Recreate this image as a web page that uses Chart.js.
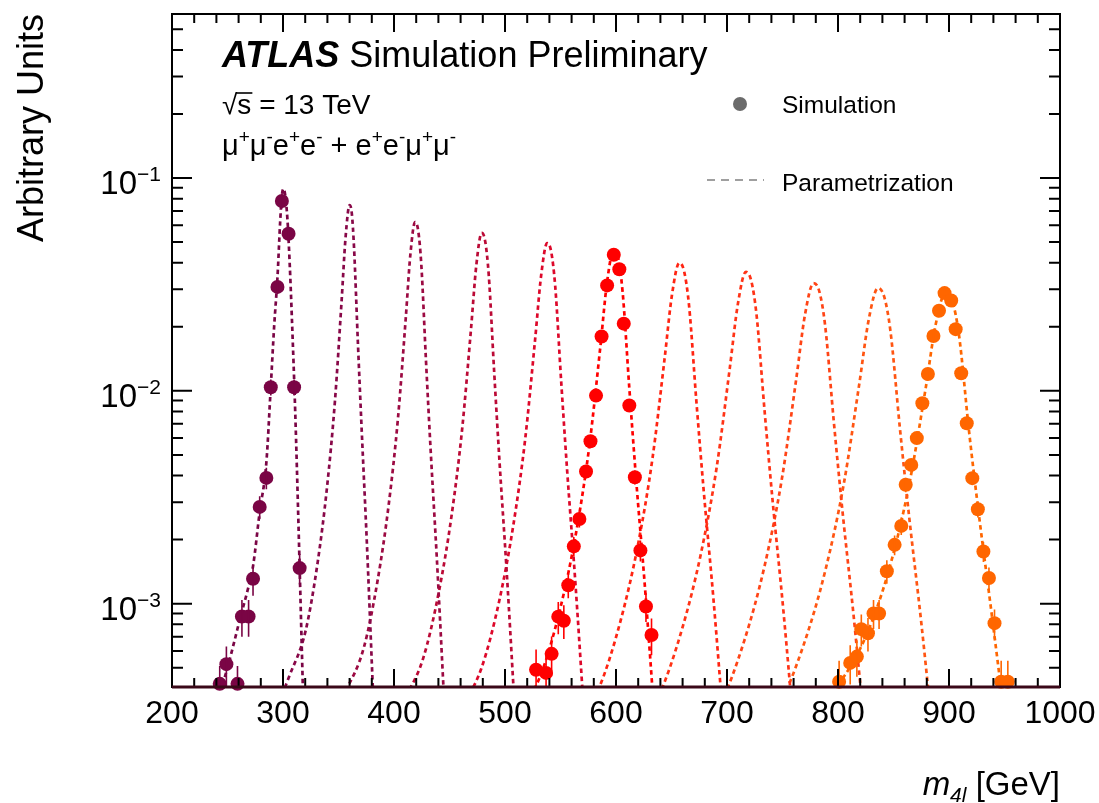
<!DOCTYPE html>
<html><head><meta charset="utf-8">
<script src="https://cdn.jsdelivr.net/npm/chart.js@4.4.1/dist/chart.umd.min.js"></script>
<style>html,body{margin:0;padding:0;background:#fff;}#wrap{width:1099px;height:803px;}</style>
</head><body><div id="wrap"><canvas id="c" width="1099" height="803"></canvas></div>
<script>
// ---------- axis ticks ----------
const xTickValues = [200, 300, 400, 500, 600, 700, 800, 900, 1000];
const xTickLabels = ['200', '300', '400', '500', '600', '700', '800', '900', '1000'];
const yTickValues = [1e-3, 1e-2, 1e-1];
const yTickExponents = ['\u22123', '\u22122', '\u22121'];

// ---------- simulation points ----------
const simMass300 = [243, 249, 259, 263, 269, 273, 279, 285, 289, 295, 299, 305, 310, 315];
const simVal300  = [4.2e-4, 5.2e-4, 4.2e-4, 8.7e-4, 8.7e-4, 1.31e-3, 2.85e-3, 3.9e-3, 1.04e-2, 3.08e-2, 7.8e-2, 5.47e-2, 1.04e-2, 1.47e-3];
const simErr300  = [9e-5, 1.1e-4, 9e-5, 1.7e-4, 1.7e-4, 2.2e-4, 3.5e-4, 4.5e-4, 9e-4, 2.2e-3, 6e-3, 4e-3, 9e-4, 2.4e-4];
const simMass600 = [528, 537, 542, 548, 553, 557, 562, 567, 573, 577, 582, 587, 592, 598, 603, 607, 612, 617, 622, 627, 632];
const simVal600  = [4.89e-4, 4.73e-4, 5.81e-4, 8.69e-4, 8.32e-4, 1.22e-3, 1.86e-3, 2.5e-3, 4.18e-3, 5.8e-3, 9.5e-3, 1.8e-2, 3.13e-2, 4.36e-2, 3.73e-2, 2.07e-2, 8.53e-3, 3.93e-3, 1.78e-3, 9.7e-4, 7.13e-4];
const simErr600  = [1.2e-4, 1.1e-4, 1.2e-4, 1.5e-4, 1.5e-4, 1.6e-4, 2e-4, 2.2e-4, 3e-4, 3.5e-4, 5e-4, 8e-4, 1.1e-3, 1.3e-3, 1.2e-3, 9e-4, 5e-4, 3e-4, 2e-4, 1.5e-4, 1.4e-4];
const simMass900 = [801, 811, 817, 821, 827, 832, 837, 844, 851, 857, 861, 866, 871, 876, 881, 886, 891, 896, 902, 906, 911, 916, 921, 926, 931, 936, 941, 947, 953];
const simVal900  = [4.3e-4, 5.27e-4, 5.64e-4, 7.59e-4, 7.26e-4, 9.0e-4, 9.0e-4, 1.42e-3, 1.89e-3, 2.32e-3, 3.62e-3, 4.49e-3, 6.0e-3, 8.75e-3, 1.2e-2, 1.81e-2, 2.38e-2, 2.88e-2, 2.66e-2, 1.95e-2, 1.21e-2, 7.05e-3, 3.89e-3, 2.78e-3, 1.76e-3, 1.32e-3, 8.1e-4, 4.3e-4, 4.3e-4];
const simErr900  = [1.1e-4, 1.1e-4, 1.1e-4, 1.3e-4, 1.3e-4, 1.4e-4, 1.4e-4, 1.8e-4, 2e-4, 2.2e-4, 2.8e-4, 3e-4, 3.5e-4, 4e-4, 5e-4, 6e-4, 7e-4, 8e-4, 7.5e-4, 6.5e-4, 5e-4, 4e-4, 2.8e-4, 2.4e-4, 1.9e-4, 1.6e-4, 1.3e-4, 1.1e-4, 1.1e-4];

// ---------- parametrization curves ----------
const curveMass300 = [236, 245, 250, 256, 262, 268, 273, 279, 285, 289, 292, 295, 297.5, 299, 300.5, 302, 304, 306, 308, 311, 314, 317, 320];
const curveVal300  = [3.0e-4, 4.1e-4, 5.0e-4, 6.6e-4, 8.8e-4, 1.15e-3, 1.5e-3, 2.7e-3, 4.6e-3, 1.05e-2, 2.0e-2, 3.4e-2, 6.3e-2, 8.3e-2, 8.9e-2, 8.3e-2, 6.4e-2, 4.0e-2, 2.2e-2, 8.0e-3, 2.3e-3, 6.0e-4, 1.6e-4];
const curveMass360 = [288, 306, 320.4, 331.2, 339.6, 346.8, 352.8, 356.4, 360, 362, 364, 367.5, 371, 375.5, 380, 383.5];
const curveVal360  = [2.71e-4, 4.61e-4, 7.47e-4, 1.56e-3, 3.5e-3, 8.96e-3, 2.65e-2, 5.29e-2, 7.47e-2, 6.81e-2, 4.71e-2, 1.67e-2, 6.36e-3, 1.96e-3, 5.29e-4, 1.87e-4];
const curveMass420 = [335, 356, 372.8, 385.4, 395.2, 403.6, 410.6, 414.8, 419, 421.8, 424.6, 428.8, 433, 438.6, 444.2, 448.4];
const curveVal420  = [2.25e-4, 3.83e-4, 6.21e-4, 1.3e-3, 2.91e-3, 7.45e-3, 2.2e-2, 4.4e-2, 6.21e-2, 5.66e-2, 3.92e-2, 1.39e-2, 5.28e-3, 1.63e-3, 4.4e-4, 1.56e-4];
const curveMass480 = [383, 407, 426.2, 440.6, 451.8, 461.4, 469.4, 474.2, 479, 482.2, 485.4, 490.2, 495, 501.4, 507.8, 512.6];
const curveVal480  = [2.0e-4, 3.41e-4, 5.52e-4, 1.15e-3, 2.58e-3, 6.62e-3, 1.96e-2, 3.91e-2, 5.52e-2, 5.03e-2, 3.48e-2, 1.24e-2, 4.7e-3, 1.45e-3, 3.91e-4, 1.39e-4];
const curveMass540 = [430, 457, 478.6, 494.8, 507.4, 518.2, 527.2, 532.6, 538, 541.6, 545.2, 550.6, 556, 563.2, 570.4, 575.8];
const curveVal540  = [1.8e-4, 3.05e-4, 4.95e-4, 1.03e-3, 2.32e-3, 5.94e-3, 1.76e-2, 3.5e-2, 4.95e-2, 4.51e-2, 3.12e-2, 1.11e-2, 4.21e-3, 1.3e-3, 3.5e-4, 1.24e-4];
const curveMass600 = [478, 508, 532, 550, 564, 576, 586, 592, 598, 602, 606, 612, 618, 626, 634, 640];
const curveVal600  = [1.67e-4, 2.84e-4, 4.6e-4, 9.61e-4, 2.15e-3, 5.52e-3, 1.63e-2, 3.26e-2, 4.6e-2, 4.2e-2, 2.9e-2, 1.03e-2, 3.91e-3, 1.21e-3, 3.26e-4, 1.15e-4];
const curveMass660 = [525, 558, 584.4, 604.2, 619.6, 632.8, 643.8, 650.4, 657, 661.4, 665.8, 672.4, 679, 687.8, 696.6, 703.2];
const curveVal660  = [1.45e-4, 2.46e-4, 3.99e-4, 8.34e-4, 1.87e-3, 4.79e-3, 1.42e-2, 2.82e-2, 3.99e-2, 3.64e-2, 2.52e-2, 8.94e-3, 3.4e-3, 1.05e-3, 2.82e-4, 1.0e-4];
const curveMass720 = [573, 609, 637.8, 659.4, 676.2, 690.6, 702.6, 709.8, 717, 721.8, 726.6, 733.8, 741, 750.6, 760.2, 767.4];
const curveVal720  = [1.31e-4, 2.23e-4, 3.62e-4, 7.57e-4, 1.69e-3, 4.34e-3, 1.29e-2, 2.56e-2, 3.62e-2, 3.3e-2, 2.28e-2, 8.11e-3, 3.08e-3, 9.52e-4, 2.56e-4, 9.09e-5];
const curveMass780 = [622, 661, 692.2, 715.6, 733.8, 749.4, 762.4, 770.2, 778, 783.2, 788.4, 796.2, 804, 814.4, 824.8, 832.6];
const curveVal780  = [1.17e-4, 1.98e-4, 3.21e-4, 6.71e-4, 1.5e-3, 3.85e-3, 1.14e-2, 2.27e-2, 3.21e-2, 2.93e-2, 2.03e-2, 7.19e-3, 2.73e-3, 8.44e-4, 2.27e-4, 8.06e-5];
const curveMass840 = [668, 710, 743.6, 768.8, 788.4, 805.2, 819.2, 827.6, 836, 841.6, 847.2, 855.6, 864, 875.2, 886.4, 894.8];
const curveVal840  = [1.1e-4, 1.88e-4, 3.04e-4, 6.35e-4, 1.42e-3, 3.65e-3, 1.08e-2, 2.15e-2, 3.04e-2, 2.77e-2, 1.92e-2, 6.81e-3, 2.59e-3, 7.99e-4, 2.15e-4, 7.63e-5];
const curveMass900 = [717, 762, 798, 825, 846, 864, 879, 888, 897, 903, 909, 918, 927, 939, 951, 960];
const curveVal900  = [1.6e-4, 2.5e-4, 4.0e-4, 7.0e-4, 1.45e-3, 3.6e-3, 1.03e-2, 2.05e-2, 2.9e-2, 2.64e-2, 1.83e-2, 6.5e-3, 2.6e-3, 8.5e-4, 2.6e-4, 9.0e-5];

const curveColors = ['#7a0545', '#880848', '#9c0a42', '#bb0a36', '#dd082a', '#ff0000', '#ff2412', '#ff3316', '#ff4416', '#ff5512', '#ff6600'];
const simColors = ['#7a0545', '#ff0000', '#ff6600'];

const FONT = "'Liberation Sans', Arial, Helvetica, sans-serif";

function pts(xs, ys) { return xs.map((m, i) => ({ x: m, y: ys[i] })); }

const curves = [
  [curveMass300, curveVal300], [curveMass360, curveVal360], [curveMass420, curveVal420],
  [curveMass480, curveVal480], [curveMass540, curveVal540], [curveMass600, curveVal600],
  [curveMass660, curveVal660], [curveMass720, curveVal720], [curveMass780, curveVal780],
  [curveMass840, curveVal840], [curveMass900, curveVal900]
];
const sims = [[simMass300, simVal300, simErr300], [simMass600, simVal600, simErr600], [simMass900, simVal900, simErr900]];

const datasets = [];
sims.forEach((s, i) => datasets.push({
  label: 'Simulation', data: pts(s[0], s[1]), errors: s[2], showLine: false,
  pointRadius: 7, pointHoverRadius: 7, pointBackgroundColor: simColors[i],
  pointBorderWidth: 0, borderColor: simColors[i], backgroundColor: simColors[i],
  order: 0, clip: false
}));
curves.forEach((c, i) => datasets.push({
  label: 'Parametrization', data: pts(c[0], c[1]), borderColor: curveColors[i],
  borderWidth: 2.7, borderDash: [4.5, 3.5], pointRadius: 0, pointHoverRadius: 0,
  fill: false, cubicInterpolationMode: 'monotone', order: 1, clip: 0
}));

function drawParts(ctx, x, y, parts, align) {
  const widths = parts.map(p => { ctx.font = p[1]; return ctx.measureText(p[0]).width; });
  const total = widths.reduce((a, b) => a + b, 0);
  let cx = align === 'right' ? x - total : x;
  const pos = [];
  parts.forEach((p, i) => {
    ctx.font = p[1];
    ctx.fillText(p[0], cx, y + (p[2] || 0));
    pos.push([cx, cx + widths[i]]);
    cx += widths[i];
  });
  return pos;
}

const errorBars = {
  id: 'errorBars',
  afterDatasetsDraw(chart) {
    const ctx = chart.ctx, ys = chart.scales.y, a = chart.chartArea;
    ctx.save();
    ctx.beginPath(); ctx.rect(a.left, a.top - 20, a.right - a.left, a.bottom - a.top + 40); ctx.clip();
    chart.data.datasets.forEach((ds, di) => {
      if (!ds.errors) return;
      const meta = chart.getDatasetMeta(di);
      ctx.strokeStyle = ds.pointBackgroundColor; ctx.lineWidth = 1.6;
      ctx.beginPath();
      meta.data.forEach((el, i) => {
        const v = ds.data[i].y, e = ds.errors[i];
        const y1 = ys.getPixelForValue(v + e), y2 = ys.getPixelForValue(Math.max(v - e, 1e-6));
        ctx.moveTo(el.x, Math.min(y2, a.bottom)); ctx.lineTo(el.x, y1);
      });
      ctx.stroke();
    });
    ctx.restore();
  }
};

const decor = {
  id: 'decor',
  afterDatasetsDraw(chart) {
    const ctx = chart.ctx, a = chart.chartArea, xs = chart.scales.x, ys = chart.scales.y;
    ctx.save();
    ctx.strokeStyle = '#000'; ctx.lineWidth = 2; ctx.setLineDash([]);
    ctx.beginPath();
    for (let v = 200; v <= 1000; v += 20) {
      const px = xs.getPixelForValue(v);
      const len = xTickValues.includes(v) ? 18 : 9;
      ctx.moveTo(px, a.bottom); ctx.lineTo(px, a.bottom - len);
      ctx.moveTo(px, a.top); ctx.lineTo(px, a.top + len);
    }
    for (let d = -4; d <= -1; d++) {
      for (let k = 1; k <= 9; k++) {
        const v = k * Math.pow(10, d);
        if (v < ys.min || v > ys.max) continue;
        const py = ys.getPixelForValue(v);
        const len = k === 1 ? 20 : 11;
        ctx.moveTo(a.left, py); ctx.lineTo(a.left + len, py);
        ctx.moveTo(a.right, py); ctx.lineTo(a.right - len, py);
      }
    }
    ctx.stroke();
    ctx.strokeRect(a.left, a.top, a.right - a.left, a.bottom - a.top);
    ctx.strokeStyle = '#3a0818'; ctx.lineWidth = 3;
    ctx.beginPath(); ctx.moveTo(a.left, a.bottom); ctx.lineTo(a.right, a.bottom); ctx.stroke();
    ctx.restore();
  },
  afterDraw(chart) {
    const ctx = chart.ctx, xs = chart.scales.x, ys = chart.scales.y;
    ctx.save();
    ctx.fillStyle = '#000'; ctx.textBaseline = 'alphabetic';
    ctx.font = '32px ' + FONT; ctx.textAlign = 'center';
    xTickValues.forEach((v, i) => ctx.fillText(xTickLabels[i], xs.getPixelForValue(v), 723));
    ctx.textAlign = 'left';
    yTickValues.forEach((v, i) => {
      const py = ys.getPixelForValue(v);
      drawParts(ctx, 161, py + 16, [['10', '33px ' + FONT, 0], [yTickExponents[i], '21px ' + FONT, -13]], 'right');
    });
    drawParts(ctx, 1060, 795, [['m', 'italic 33px ' + FONT, 0], ['4l', 'italic 21px ' + FONT, 7], [' [GeV]', '33px ' + FONT, 0]], 'right');
    ctx.save();
    ctx.translate(43, 14); ctx.rotate(-Math.PI / 2);
    ctx.font = '36px ' + FONT; ctx.textAlign = 'right';
    ctx.fillText('Arbitrary Units', 0, 0);
    ctx.restore();
    ctx.textAlign = 'left';
    drawParts(ctx, 222, 67, [['ATLAS', 'italic bold 36px ' + FONT, 0], [' Simulation Preliminary', '36px ' + FONT, 0]]);
    const sq = drawParts(ctx, 222, 114, [['\u221A', '28px ' + FONT, 0], ['s', '28px ' + FONT, 0], [' = 13 TeV', '28px ' + FONT, 0]]);
    ctx.strokeStyle = '#000'; ctx.lineWidth = 1.6;
    ctx.beginPath(); ctx.moveTo(sq[0][1] - 1, 114 - 21); ctx.lineTo(sq[1][1] + 1, 114 - 21); ctx.stroke();
    const B = '29px ' + FONT, S = '19px ' + FONT;
    drawParts(ctx, 222, 155, [['\u03BC', B, 0], ['+', S, -12], ['\u03BC', B, 0], ['-', S, -12], ['e', B, 0], ['+', S, -12], ['e', B, 0], ['-', S, -12],
      [' + e', B, 0], ['+', S, -12], ['e', B, 0], ['-', S, -12], ['\u03BC', B, 0], ['+', S, -12], ['\u03BC', B, 0], ['-', S, -12]]);
    ctx.fillStyle = '#6b6b6b';
    ctx.beginPath(); ctx.arc(740, 104, 7, 0, Math.PI * 2); ctx.fill();
    ctx.strokeStyle = '#808080'; ctx.lineWidth = 1.6; ctx.setLineDash([8, 6]);
    ctx.beginPath(); ctx.moveTo(707, 180); ctx.lineTo(764, 180); ctx.stroke();
    ctx.setLineDash([]);
    ctx.fillStyle = '#000';
    ctx.font = '24.5px ' + FONT;
    ctx.fillText('Simulation', 782, 113);
    ctx.fillText('Parametrization', 782, 191);
    ctx.restore();
  }
};

new Chart(document.getElementById('c'), {
  type: 'line',
  data: { datasets },
  options: {
    responsive: false, animation: false, devicePixelRatio: 1,
    layout: { padding: { left: 172, top: 14, right: 39, bottom: 116 } },
    scales: {
      x: { type: 'linear', min: 200, max: 1000, display: false },
      y: { type: 'logarithmic', min: 4.06e-4, max: 0.59, display: false }
    },
    plugins: { legend: { display: false }, tooltip: { enabled: false } },
    elements: { line: { tension: 0 } }
  },
  plugins: [errorBars, decor]
});
</script></body></html>
